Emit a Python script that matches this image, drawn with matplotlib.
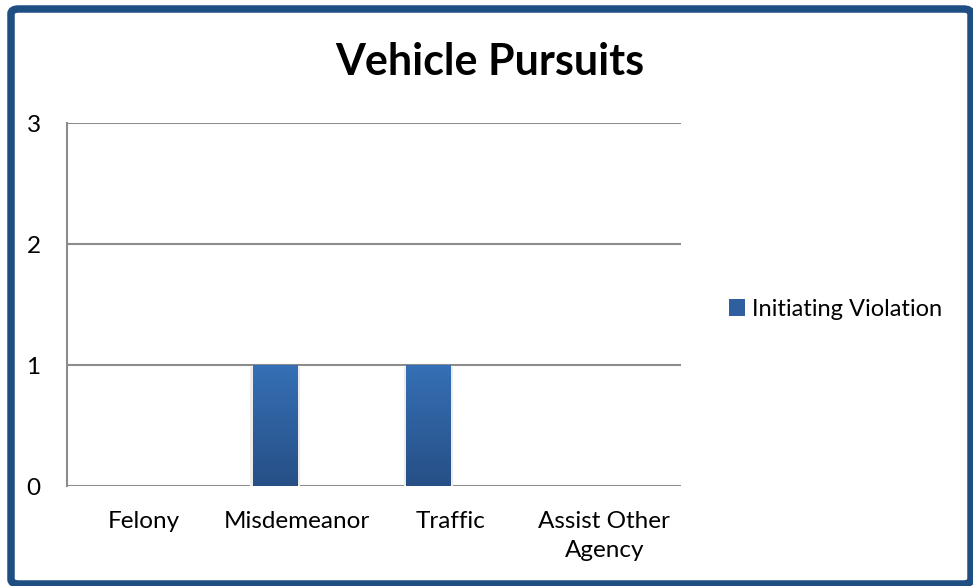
import numpy as np
import matplotlib.pyplot as plt
from matplotlib.patches import FancyBboxPatch, Patch
from matplotlib.colors import LinearSegmentedColormap

categories = ['Felony', 'Misdemeanor', 'Traffic', 'Assist Other\nAgency']
values = [0, 1, 1, 0]
series_name = 'Initiating Violation'
yticks = [0, 1, 2, 3]

plt.rcParams['font.family'] = ['Lato', 'DejaVu Sans']

fig = plt.figure(figsize=(9.73, 5.86), dpi=100)
ax = fig.add_axes([0.0689, 0.1706, 0.6310, 0.6195])

x = np.arange(len(categories))
width = 0.29
bars = ax.bar(x - width / 2, values, width=width, color='#2f5f9e', zorder=3)

# verlauf in den balken
grad = LinearSegmentedColormap.from_list('g', ['#264f86', '#3670b6'])
gimg = np.linspace(0, 1, 256).reshape(-1, 1)
for b in bars:
    if b.get_height() <= 0:
        continue
    bx, by = b.get_x(), b.get_y()
    bw, bh = b.get_width(), b.get_height()
    # leichter schatten
    ax.bar(bx + bw / 2, bh, width=bw + 0.03, bottom=-0.015,
           color='#ececec', zorder=2.5)
    im = ax.imshow(gimg, cmap=grad, origin='lower', aspect='auto',
                   extent=[bx, bx + bw, by, by + bh], zorder=3.5)
    im.set_clip_path(b)

ax.set_xlim(-0.5, len(categories) - 0.5)
ax.set_ylim(0, 3)
ax.set_yticks(yticks)
ax.set_xticks(x)
ax.set_xticklabels(categories, fontsize=17.5, linespacing=1.45)
ax.tick_params(axis='y', length=0, pad=19, labelsize=17.5)
ax.tick_params(axis='x', length=0, pad=18)
ax.yaxis.grid(True, color='#8c8c8c', linewidth=1.5, zorder=1)
for s in ['top', 'right', 'bottom']:
    ax.spines[s].set_visible(False)
ax.spines['left'].set_color('#8c8c8c')
ax.spines['left'].set_linewidth(1.5)

fig.text(0.5036, 0.894, 'Vehicle Pursuits', fontsize=31, fontweight='bold',
         ha='center', va='center')

handle = Patch(facecolor='#2f5f9e', edgecolor='none')
fig.legend([handle], [series_name], loc='center left',
           bbox_to_anchor=(0.727, 0.472), frameon=False, fontsize=17,
           handlelength=0.7, handleheight=0.7, handletextpad=0.3)

border = FancyBboxPatch((11 / 973, 2 / 586), 960 / 973, 575 / 586,
                        boxstyle='round,pad=0,rounding_size=0.008',
                        transform=fig.transFigure, fill=False,
                        edgecolor='#1f4e82', linewidth=5.4, zorder=10)
fig.patches.append(border)

fig.savefig('out.png', dpi=100)
